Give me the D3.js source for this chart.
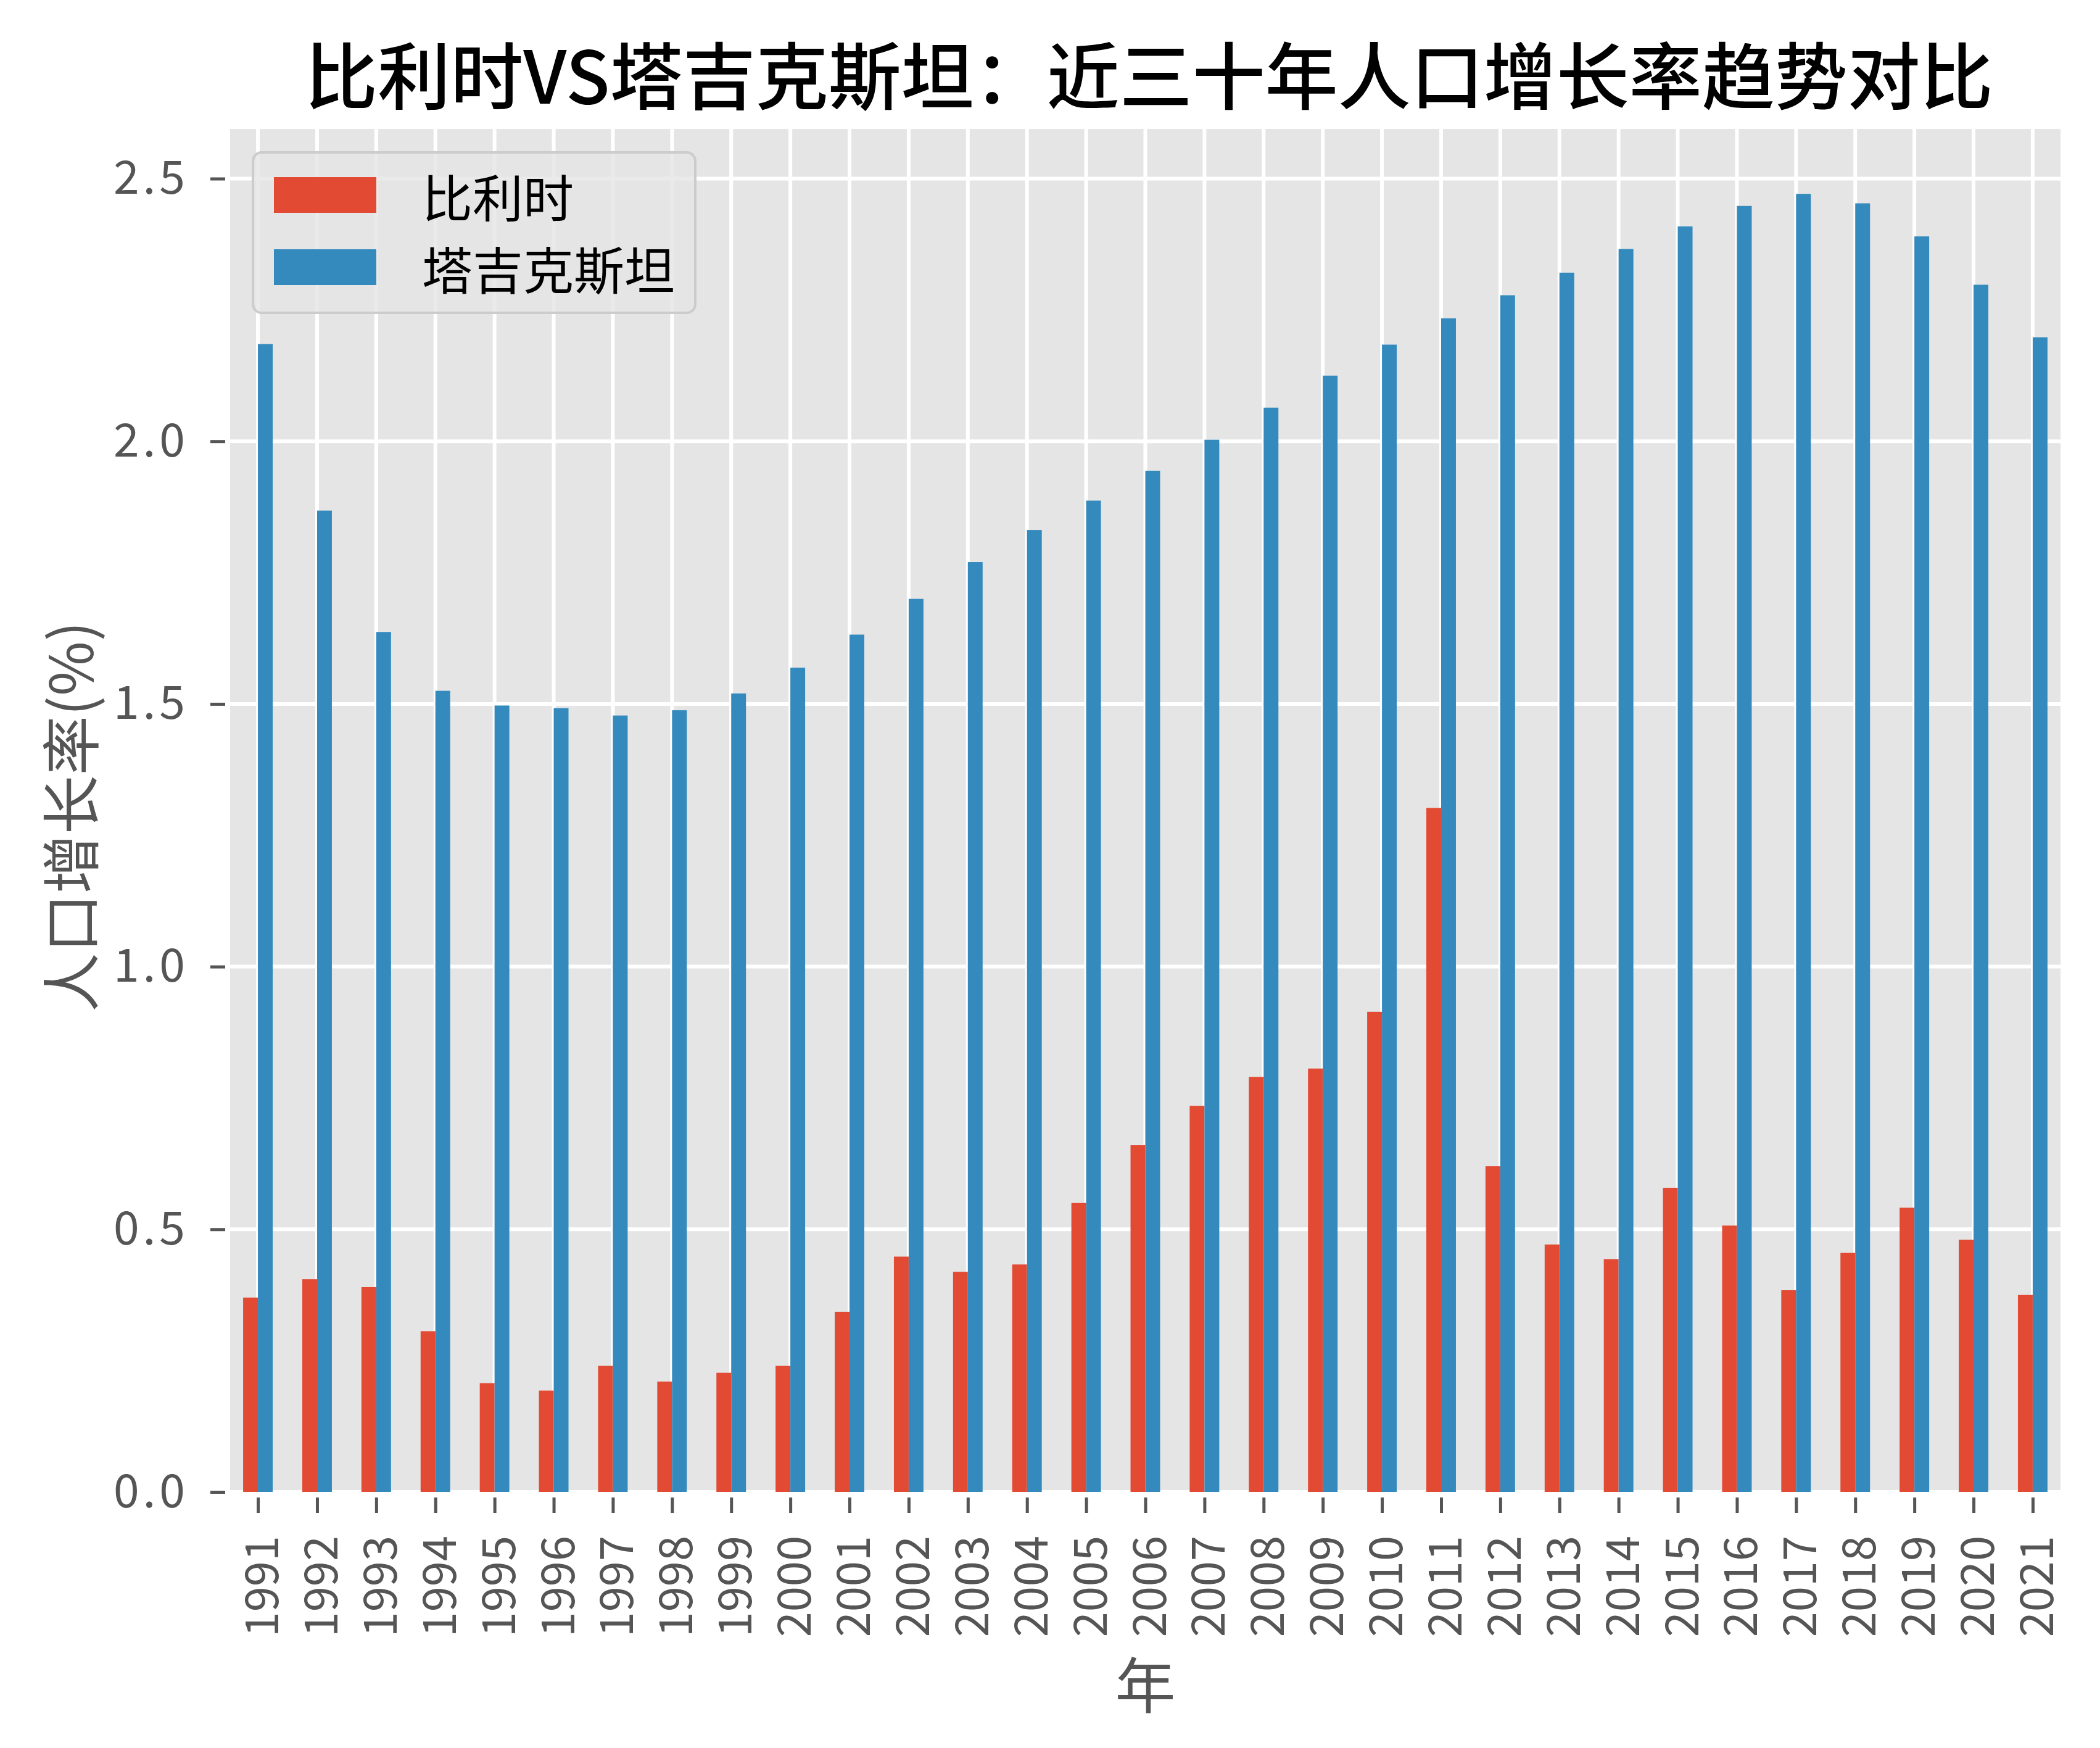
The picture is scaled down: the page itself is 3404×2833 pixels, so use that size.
<!DOCTYPE html>
<html>
<head>
<meta charset="utf-8">
<script src="https://cdn.jsdelivr.net/npm/d3@7"></script>
<style>
  html, body { margin: 0; padding: 0; background: #ffffff; }
  svg { display: block; }
  text { font-family: "Noto Sans CJK SC", "Noto Sans", sans-serif; }
</style>
</head>
<body>
<script>
// ---- data ----
const years = ["1991","1992","1993","1994","1995","1996","1997","1998","1999","2000",
               "2001","2002","2003","2004","2005","2006","2007","2008","2009","2010",
               "2011","2012","2013","2014","2015","2016","2017","2018","2019","2020","2021"];
const belgium = [0.370,0.405,0.390,0.306,0.207,0.193,0.240,0.210,0.227,0.240,
                 0.343,0.448,0.419,0.433,0.550,0.660,0.735,0.790,0.806,0.914,
                 1.302,0.620,0.471,0.443,0.579,0.507,0.384,0.455,0.541,0.480,0.375];
const tajikistan = [2.185,1.868,1.637,1.525,1.497,1.492,1.478,1.488,1.520,1.569,
                    1.632,1.700,1.770,1.831,1.887,1.944,2.003,2.064,2.125,2.184,
                    2.234,2.278,2.321,2.366,2.409,2.448,2.471,2.453,2.390,2.298,2.198];
const seriesNames = ["比利时", "塔吉克斯坦"];
const seriesColors = ["#E24A33", "#348ABD"];
const yTickValues = [0.0, 0.5, 1.0, 1.5, 2.0, 2.5];
const yTickLabels = ["0.0", "0.5", "1.0", "1.5", "2.0", "2.5"];
const titleText = "比利时VS塔吉克斯坦：近三十年人口增长率趋势对比";
const xLabelText = "年";
const yLabelText = "人口增长率(%)";

// ---- layout ----
const W = 3404, H = 2833;
const plot = { left: 373, right: 3340, top: 209, bottom: 2418 };
const tickColor = "#555555";

const svg = d3.select("body").append("svg")
  .attr("width", W).attr("height", H)
  .attr("viewBox", `0 0 ${W} ${H}`);
svg.append("rect").attr("width", W).attr("height", H).attr("fill", "#ffffff");

const x = d3.scalePoint().domain(years).range([plot.left, plot.right]).padding(0.47);
const step = x.step();
const barW = step * 0.25;

const yMax = d3.max(tajikistan.concat(belgium)) * 1.05;
const y = d3.scaleLinear().domain([0, yMax]).range([plot.bottom, plot.top]);

// background
svg.append("rect")
  .attr("x", plot.left).attr("y", plot.top)
  .attr("width", plot.right - plot.left).attr("height", plot.bottom - plot.top)
  .attr("fill", "#E5E5E5");

// grid
const grid = svg.append("g");
grid.selectAll("line.h").data(yTickValues).join("line")
  .attr("x1", plot.left).attr("x2", plot.right)
  .attr("y1", d => y(d)).attr("y2", d => y(d))
  .attr("stroke", "#ffffff").attr("stroke-width", 6);
grid.selectAll("line.v").data(years).join("line")
  .attr("x1", d => x(d)).attr("x2", d => x(d))
  .attr("y1", plot.top).attr("y2", plot.bottom)
  .attr("stroke", "#ffffff").attr("stroke-width", 6);

// bars
const series = [belgium, tajikistan];
series.forEach((vals, si) => {
  svg.append("g").selectAll("rect").data(years).join("rect")
    .attr("x", (d) => x(d) + (si === 0 ? -barW : 0))
    .attr("width", barW)
    .attr("y", (d, i) => y(vals[i]))
    .attr("height", (d, i) => y(0) - y(vals[i]))
    .attr("fill", seriesColors[si]);
});

// y axis
const yAxis = d3.axisLeft(y)
  .tickValues(yTickValues)
  .tickFormat((d, i) => yTickLabels[i])
  .tickSize(24).tickPadding(35);
const gy = svg.append("g").attr("transform", `translate(${plot.left - 8},0)`).call(yAxis);
gy.select(".domain").remove();
gy.selectAll(".tick line").attr("stroke", tickColor).attr("stroke-width", 5);
gy.selectAll(".tick text").attr("fill", tickColor).attr("font-size", 75)
  .attr("letter-spacing", 6)
  .attr("font-family", "'Noto Sans CJK SC', sans-serif");

// x axis
const xAxis = d3.axisBottom(x).tickSize(25).tickPadding(0);
const gx = svg.append("g").attr("transform", `translate(0,${plot.bottom + 9})`).call(xAxis);
gx.select(".domain").remove();
gx.selectAll(".tick line").attr("stroke", tickColor).attr("stroke-width", 5);
gx.selectAll(".tick text")
  .attr("fill", tickColor).attr("font-size", 74)
  .attr("font-family", "'Noto Sans CJK SC', sans-serif")
  .attr("text-anchor", "end")
  .attr("dominant-baseline", "central")
  .attr("dy", null)
  .attr("y", 0)
  .attr("transform", "translate(0,62) rotate(-90)");

// axis labels
svg.append("text")
  .attr("x", (plot.left + plot.right) / 2).attr("y", 2725)
  .attr("text-anchor", "middle").attr("dominant-baseline", "central")
  .attr("font-size", 98).attr("fill", tickColor)
  .text(xLabelText);
svg.append("text")
  .attr("transform", `translate(109,${(plot.top + plot.bottom) / 2 + 10}) rotate(-90)`)
  .attr("text-anchor", "middle").attr("dominant-baseline", "central")
  .attr("font-size", 96).attr("fill", tickColor)
  .text(yLabelText);

// title
svg.append("text")
  .attr("x", (plot.left + plot.right) / 2 + 6).attr("y", 116)
  .attr("text-anchor", "middle").attr("dominant-baseline", "central")
  .attr("font-size", 118).attr("font-weight", 500).attr("fill", "#000000")
  .text(titleText);

// legend
const lg = svg.append("g");
lg.append("rect")
  .attr("x", 410).attr("y", 247).attr("width", 717).attr("height", 260)
  .attr("rx", 14).attr("ry", 14)
  .attr("fill", "#E5E5E5").attr("fill-opacity", 0.8)
  .attr("stroke", "#CCCCCC").attr("stroke-width", 4);
const legendRowY = [316, 433];
seriesNames.forEach((name, i) => {
  lg.append("rect")
    .attr("x", 444).attr("y", legendRowY[i] - 29)
    .attr("width", 166).attr("height", 58)
    .attr("fill", seriesColors[i]);
  lg.append("text")
    .attr("x", 684).attr("y", legendRowY[i])
    .attr("dominant-baseline", "central")
    .attr("font-size", 82).attr("fill", "#000000")
    .text(name);
});
</script>
</body>
</html>
